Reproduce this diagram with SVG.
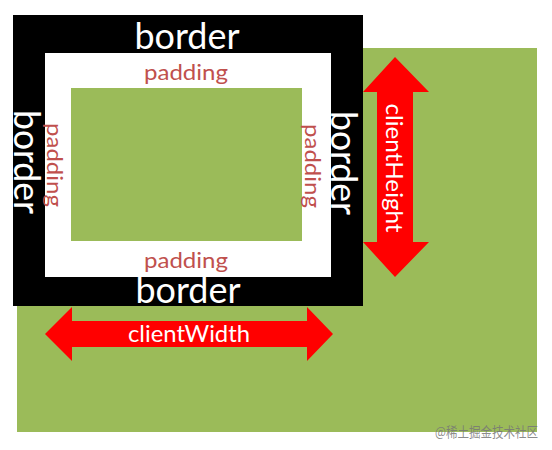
<svg xmlns="http://www.w3.org/2000/svg" width="552" height="450" viewBox="0 0 552 450">
<style>
.border{font-family:Lato,"Open Sans",sans-serif;font-size:36px;fill:#fff}
.pad{font-family:Lato,"Open Sans",sans-serif;font-size:22px;fill:#c0504d}
.lbl{font-family:Lato,"Open Sans",sans-serif;font-size:23px;fill:#fff}
.arrow{fill:#ff0000}
</style>
<rect width="552" height="450" fill="#fff"/>
<g id="outer-area"><rect x="17" y="48" width="520" height="384" fill="#9bbb59"/></g>
<g id="border-box"><rect x="13" y="15" width="350" height="291" fill="#000"/></g>
<g id="padding-box"><rect x="45" y="53" width="286" height="224" fill="#fff"/></g>
<g id="content-box"><rect x="71" y="88" width="231" height="153" fill="#9bbb59"/></g>
<g id="labels-border">
<text class="border" x="187" y="49" text-anchor="middle" textLength="105" lengthAdjust="spacingAndGlyphs">border</text>
<text class="border" x="188" y="303" text-anchor="middle" textLength="105" lengthAdjust="spacingAndGlyphs">border</text>
<text class="border" transform="translate(14,162) rotate(90)" text-anchor="middle" textLength="104" lengthAdjust="spacingAndGlyphs">border</text>
<text class="border" transform="translate(331,163) rotate(90)" text-anchor="middle" textLength="104" lengthAdjust="spacingAndGlyphs">border</text>
</g>
<g id="labels-padding">
<text class="pad" x="186" y="80" text-anchor="middle" textLength="84" lengthAdjust="spacingAndGlyphs">padding</text>
<text class="pad" x="186" y="268" text-anchor="middle" textLength="84" lengthAdjust="spacingAndGlyphs">padding</text>
<text class="pad" transform="translate(47,165) rotate(90)" text-anchor="middle" textLength="84" lengthAdjust="spacingAndGlyphs">padding</text>
<text class="pad" transform="translate(305,166) rotate(90)" text-anchor="middle" textLength="84" lengthAdjust="spacingAndGlyphs">padding</text>
</g>
<g id="connectors">
<path class="arrow" d="M395,57 L429,92 L413,92 L413,242 L429,242 L395,277 L363,242 L377,242 L377,92 L363,92 Z"/>
<path class="arrow" d="M45,334 L72,307 L72,321 L307,321 L307,307 L333,334 L307,361 L307,347 L72,347 L72,361 Z"/>
</g>
<g id="clientHeight-label">
<text class="lbl" transform="translate(386,168) rotate(90)" text-anchor="middle" textLength="129" lengthAdjust="spacingAndGlyphs">clientHeight</text>
</g>
<g id="clientWidth-label">
<text class="lbl" x="189" y="342" text-anchor="middle" textLength="122" lengthAdjust="spacingAndGlyphs">clientWidth</text>
</g>
<g id="watermark">
<text x="435" y="437" font-family="'Noto Sans CJK SC',sans-serif" font-size="14" fill="#777" fill-opacity="0.85" textLength="103" lengthAdjust="spacingAndGlyphs">@稀土掘金技术社区</text>
</g>
</svg>
